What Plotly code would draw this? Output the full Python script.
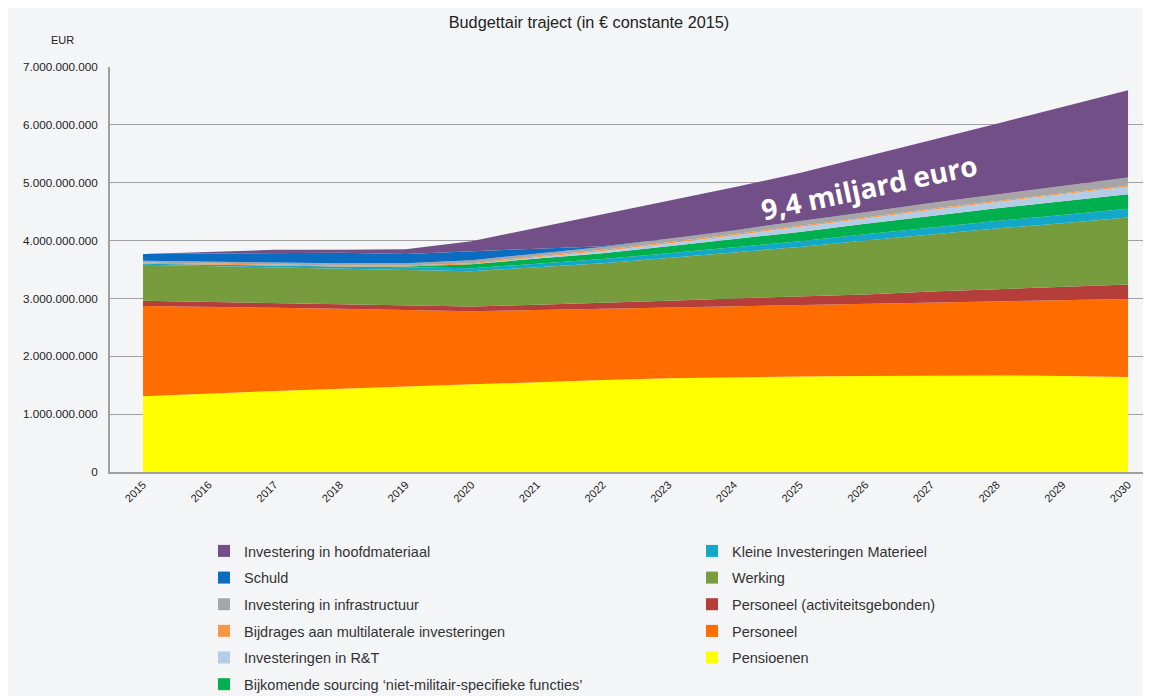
import plotly.graph_objects as go

years = list(range(2015, 2031))
year_labels = [str(y) for y in years]

# values in millions of euro
pensioenen = [1310, 1360, 1400, 1440, 1480, 1520, 1560, 1590, 1620, 1640, 1650, 1660, 1670, 1670, 1660, 1640]
personeel = [1560, 1500, 1440, 1380, 1320, 1260, 1240, 1230, 1220, 1220, 1240, 1250, 1260, 1280, 1310, 1350]
personeel_act = [90, 80, 90, 90, 90, 80, 90, 100, 120, 140, 140, 160, 190, 210, 230, 250]
werking = [620, 620, 610, 610, 610, 610, 650, 690, 740, 790, 860, 930, 990, 1050, 1100, 1160]
kleine_inv = [20, 20, 30, 30, 40, 50, 60, 70, 80, 90, 100, 110, 120, 130, 140, 150]
sourcing = [0, 0, 0, 0, 10, 70, 90, 100, 120, 140, 160, 180, 200, 220, 240, 250]
rt = [0, 0, 0, 0, 0, 0, 20, 40, 50, 70, 80, 90, 100, 110, 120, 130]
bijdrages = [20, 20, 20, 20, 20, 20, 20, 20, 20, 20, 20, 20, 20, 20, 20, 20]
infra = [30, 30, 30, 40, 40, 50, 50, 50, 60, 70, 80, 90, 100, 110, 120, 140]
schuld = [120, 150, 170, 180, 160, 160, 80, 10, 0, 0, 0, 0, 0, 0, 0, 0]
hoofdmateriaal = [0, 20, 50, 50, 80, 170, 360, 550, 650, 740, 840, 960, 1080, 1220, 1370, 1510]

y_ticks = [0, 1e9, 2e9, 3e9, 4e9, 5e9, 6e9, 7e9]

# stacking order, bottom to top: (name, values, colour, legend)
series = [
    ("Pensioenen", pensioenen, "#ffff00", "legend2"),
    ("Personeel", personeel, "#ff6d00", "legend2"),
    ("Personeel (activiteitsgebonden)", personeel_act, "#b53d3a", "legend2"),
    ("Werking", werking, "#769c3e", "legend2"),
    ("Kleine Investeringen Materieel", kleine_inv, "#13a8c8", "legend2"),
    ("Bijkomende sourcing \u2018niet-militair-specifieke functies\u2019", sourcing, "#00b04f", "legend"),
    ("Investeringen in R&T", rt, "#b3cde6", "legend"),
    ("Bijdrages aan multilaterale investeringen", bijdrages, "#f79646", "legend"),
    ("Investering in infrastructuur", infra, "#a6a6a6", "legend"),
    ("Schuld", schuld, "#0a6dc2", "legend"),
    ("Investering in hoofdmateriaal", hoofdmateriaal, "#725087", "legend"),
]

fig = go.Figure()
for name, vals, col, _ in series:
    fig.add_trace(go.Scatter(
        x=years, y=[v * 1e6 for v in vals], name=name,
        stackgroup="one", mode="lines", line=dict(width=0, color=col),
        fillcolor=col, showlegend=False, hoverinfo="skip"))

# legend entries (square swatches), top to bottom in each column
for rank, (name, vals, col, leg) in enumerate(reversed(series)):
    fig.add_trace(go.Scatter(
        x=[None], y=[None], mode="markers", name=name,
        marker=dict(symbol="square", size=12, color=col),
        legend=leg, legendgroup=name, legendrank=rank + 1, showlegend=True))

bg = "#f4f5f7"
font_fam = "Liberation Sans Narrow, Liberation Sans, Arial"
W, H = 1143, 688

fig.update_layout(
    width=W, height=H,
    paper_bgcolor=bg, plot_bgcolor=bg,
    margin=dict(l=102, r=0, t=59, b=224, autoexpand=False),
    separators=",.",
    title=dict(text="Budgettair traject (in \u20ac constante 2015)", x=581 / W, xanchor="center",
               y=1 - 14 / H, yanchor="middle", font=dict(family=font_fam, size=16.3, color="#222222")),
    xaxis=dict(range=[2014.497, 2030.35], tickmode="array", tickvals=years, ticktext=year_labels,
               tickangle=-45, showgrid=False, zeroline=False, showline=True, linecolor="#a0a0a0",
               linewidth=2, ticks="", tickfont=dict(family="Liberation Sans, Arial", size=11, color="#222222")),
    yaxis=dict(range=[0, 7e9], tickmode="array", tickvals=y_ticks, tickformat=",.0f",
               showgrid=True, gridcolor="#a0a0a0", gridwidth=1, zeroline=False,
               showline=True, linecolor="#a0a0a0", linewidth=2, ticks="", ticklabelstandoff=8,
               tickfont=dict(family="Liberation Sans, Arial", size=11.7, color="#222222")),
    legend=dict(x=196 / W, xref="container", xanchor="left", y=1 - 527 / H, yref="container",
                yanchor="top", bgcolor="rgba(0,0,0,0)", tracegroupgap=4.8, traceorder="grouped",
                font=dict(family=font_fam, size=14.5, color="#333333")),
    legend2=dict(x=684 / W, xref="container", xanchor="left", y=1 - 527 / H, yref="container",
                 yanchor="top", bgcolor="rgba(0,0,0,0)", tracegroupgap=4.8, traceorder="grouped",
                 font=dict(family=font_fam, size=14.5, color="#333333")),
    annotations=[
        dict(text="EUR", xref="paper", yref="paper", x=-0.0461, y=1.0667, showarrow=False,
             xanchor="center", yanchor="middle",
             font=dict(family="Liberation Sans, Arial", size=11, color="#222222")),
        dict(text="<b>9,4 miljard euro</b>", x=2026.05, y=4.93e9, xref="x", yref="y",
             showarrow=False, textangle=-12, font=dict(family="Open Sans, Liberation Sans", size=28, color="white")),
    ],
)

fig.write_html("out.html")
